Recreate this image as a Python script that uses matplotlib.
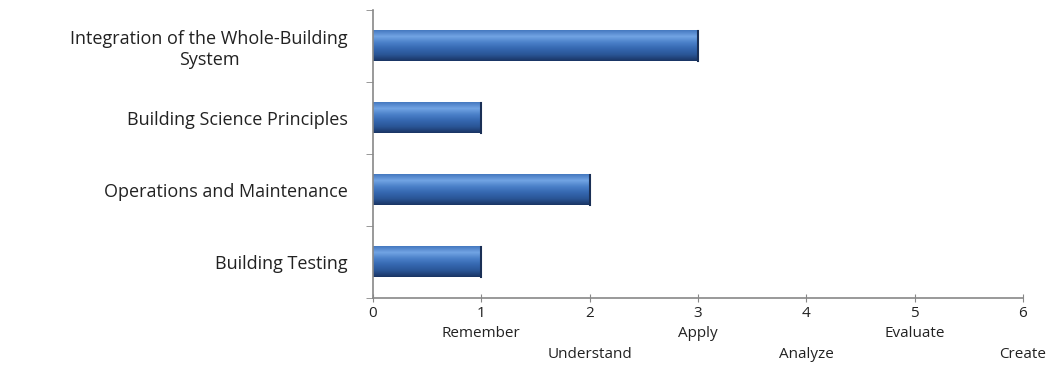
import numpy as np
import matplotlib.pyplot as plt
from matplotlib.colors import LinearSegmentedColormap

# chart data
categories = ["Building Testing", "Operations and Maintenance",
              "Building Science Principles",
              "Integration of the Whole-Building\nSystem"]
values = [1, 2, 1, 3]
xticks = [0, 1, 2, 3, 4, 5, 6]
levels = ["Remember", "Understand", "Apply", "Analyze", "Evaluate", "Create"]

plt.rcParams['font.family'] = ['Open Sans', 'DejaVu Sans']

fig = plt.figure(figsize=(10.59, 3.85), dpi=100)
ax = fig.add_axes([0.352, 0.226, 0.614, 0.748])

# gradient bars (light top, dark bottom edge)
cmap = LinearSegmentedColormap.from_list(
    "bar", ["#1a3564", "#2a5596", "#3567b0", "#4a80c8", "#72a4e4", "#4579c0"])
grad = np.linspace(0, 1, 64).reshape(-1, 1)
h = 0.42
for i, v in enumerate(values):
    ax.imshow(grad, cmap=cmap, aspect='auto', origin='lower',
              extent=(0, v, i - h / 2, i + h / 2), zorder=2)
    ax.plot([v, v], [i - h / 2, i + h / 2], color="#1a2f55", lw=1.5, zorder=3)

ax.set_xlim(0, 6)
ax.set_ylim(-0.5, len(categories) - 0.5)
ax.set_xticks(xticks)
ax.set_xticklabels([str(t) for t in xticks], fontsize=11, color="#222222")
ax.set_yticks(np.arange(len(categories)))
ax.set_yticklabels(categories, fontsize=13, color="#222222",
                   multialignment='center')
ax.tick_params(axis='y', length=0, pad=18)
ax.set_yticks(np.arange(len(categories) + 1) - 0.5, minor=True)
ax.tick_params(axis='y', which='minor', length=5, color="#888888")
ax.tick_params(axis='x', length=6, color="#888888", direction='inout', pad=3)

for s in ['top', 'right']:
    ax.spines[s].set_visible(False)
for s in ['left', 'bottom']:
    ax.spines[s].set_color("#888888")
    ax.spines[s].set_linewidth(1.2)

# Bloom's level labels under the numbers, staggered
for k, name in enumerate(levels):
    y = -0.125 if k % 2 == 0 else -0.195
    ax.text(k + 1, y, name, transform=ax.get_xaxis_transform(),
            ha='center', va='center', fontsize=11, color="#222222",
            clip_on=False)

fig.savefig("out.png", dpi=100)
